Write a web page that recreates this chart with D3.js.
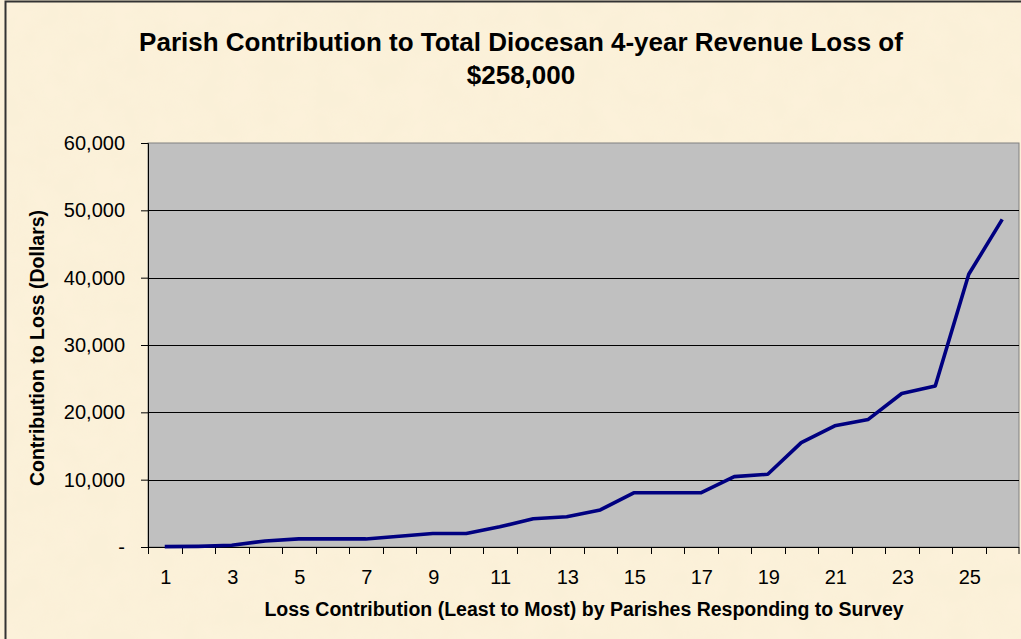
<!DOCTYPE html>
<html>
<head>
  <meta charset="utf-8">
  <title>Parish contribution to revenue loss</title>
  <style>
    body{margin:0;background:#fcf0d8;overflow:hidden;}
    text{font-family:"Liberation Sans",Arial,sans-serif;}
  </style>
</head>
<body>
<div id="container"></div>
<script src="https://cdn.jsdelivr.net/npm/d3@7"></script>
<script>
  // parishes ranked least to most contribution
  var parishes = d3.range(1, 27);
  var contribution = [50, 100, 250, 900, 1200, 1200, 1200, 1600, 2000, 2000,
                      3000, 4200, 4500, 5500, 8050, 8050, 8050, 10450, 10800, 15500,
                      18000, 18950, 22800, 23900, 40500, 48650];
  var yTicks = [0, 10000, 20000, 30000, 40000, 50000, 60000];
  var xLabels = parishes.filter(function(d){ return d % 2 == 1; });

  var titleLines = ["Parish Contribution to Total Diocesan 4-year Revenue Loss of", "$258,000"];
  var xTitle = "Loss Contribution (Least to Most) by Parishes Responding to Survey";
  var yTitle = "Contribution to Loss (Dollars)";

  var W = 1021, H = 639;
  var margin = {top: 143, right: 2, bottom: 92, left: 148},
      width = W - margin.left - margin.right,
      height = H - margin.top - margin.bottom;

  var svg = d3.select("#container").append("svg")
      .attr("width", W)
      .attr("height", H);

  // parchment texture
  var defs = svg.append("defs");
  var f = defs.append("filter").attr("id", "paper")
      .attr("x", 0).attr("y", 0).attr("width", "100%").attr("height", "100%");
  f.append("feTurbulence").attr("type", "fractalNoise")
      .attr("baseFrequency", 0.035).attr("numOctaves", 3).attr("seed", 4).attr("result", "noise");
  f.append("feColorMatrix").attr("in", "noise").attr("type", "matrix")
      .attr("values", "0 0 0 0 0.93  0 0 0 0 0.86  0 0 0 0 0.66  0 0 0 0.7 -0.15")
      .attr("result", "tint");
  f.append("feComposite").attr("in", "tint").attr("in2", "SourceGraphic").attr("operator", "in");

  svg.append("rect").attr("width", W).attr("height", H).attr("fill", "#fcf1da");
  svg.append("rect").attr("width", W).attr("height", H).attr("fill", "#fcf1da")
      .attr("filter", "url(#paper)");

  // chart frame (only top/left visible)
  svg.append("rect")
      .attr("x", 5.5).attr("y", 1.5)
      .attr("width", W + 10).attr("height", H + 10)
      .attr("fill", "none").attr("stroke", "#333").attr("stroke-width", 2);

  var xScale = d3.scaleBand().domain(parishes).range([0, width]);
  var yScale = d3.scaleLinear().domain([0, 60000]).range([height, 0]);

  var g = svg.append("g")
      .attr("transform", "translate(" + margin.left + "," + margin.top + ")");

  g.append("rect")
      .attr("width", width).attr("height", height)
      .attr("fill", "#c0c0c0")
      .attr("stroke", "#808080").attr("stroke-width", 1);

  // gridlines
  g.selectAll(".grid").data(yTicks.filter(function(d){ return d > 0 && d < 60000; }))
    .enter().append("line")
      .attr("class", "grid")
      .attr("x1", 0).attr("x2", width)
      .attr("y1", function(d){ return Math.round(yScale(d)) + 0.5; })
      .attr("y2", function(d){ return Math.round(yScale(d)) + 0.5; })
      .attr("stroke", "#000").attr("stroke-width", 1);

  // y axis
  var yAxis = d3.axisLeft(yScale).tickValues(yTicks).tickSize(7).tickPadding(16)
      .tickFormat(function(d){ return d == 0 ? "-" : d3.format(",")(d); });
  var ya = g.append("g").attr("class", "y-ax").call(yAxis)
      .attr("font-size", 20).attr("font-family", "Liberation Sans, Arial, sans-serif");
  ya.selectAll(".tick text").attr("fill", "#000");
  ya.select(".domain").attr("stroke", "#000");
  ya.selectAll(".tick line").attr("stroke", "#000");

  // x axis: ticks on category boundaries, labels at odd categories
  var xa = g.append("g").attr("class", "x-ax")
      .attr("transform", "translate(0," + height + ")");
  xa.append("line").attr("x1", 0).attr("x2", width).attr("y1", 0.5).attr("y2", 0.5)
      .attr("stroke", "#000");
  xa.selectAll(".xt").data(parishes.concat([27]))
    .enter().append("line")
      .attr("class", "xt")
      .attr("x1", function(d){ return d == 27 ? width : Math.round(xScale(d)) + 0.5; })
      .attr("x2", function(d){ return d == 27 ? width : Math.round(xScale(d)) + 0.5; })
      .attr("y1", 0).attr("y2", 7)
      .attr("stroke", "#000");
  xa.selectAll(".xl").data(xLabels)
    .enter().append("text")
      .attr("class", "xl")
      .attr("x", function(d){ return xScale(d) + xScale.bandwidth() / 2 + 1; })
      .attr("y", 37)
      .attr("text-anchor", "middle")
      .attr("font-size", 20)
      .text(function(d){ return d; });

  // line
  var line = d3.line()
      .x(function(d, i){ return xScale(parishes[i]) + xScale.bandwidth() / 2; })
      .y(function(d){ return yScale(d); });

  g.append("path")
      .datum(contribution)
      .attr("d", line)
      .attr("fill", "none")
      .attr("stroke", "#000080")
      .attr("stroke-width", 3.6)
      .attr("stroke-linejoin", "round");

  // titles
  svg.selectAll(".title").data(titleLines)
    .enter().append("text")
      .attr("class", "title")
      .attr("x", 521)
      .attr("y", function(d, i){ return 51 + i * 33; })
      .attr("text-anchor", "middle")
      .attr("font-size", 26)
      .attr("font-weight", "bold")
      .text(function(d){ return d; });

  svg.append("text")
      .attr("x", 584)
      .attr("y", 616)
      .attr("text-anchor", "middle")
      .attr("font-size", 19.5)
      .attr("font-weight", "bold")
      .text(xTitle);

  svg.append("text")
      .attr("transform", "translate(44,348) rotate(-90)")
      .attr("text-anchor", "middle")
      .attr("font-size", 19.5)
      .attr("font-weight", "bold")
      .text(yTitle);
</script>
</body>
</html>
